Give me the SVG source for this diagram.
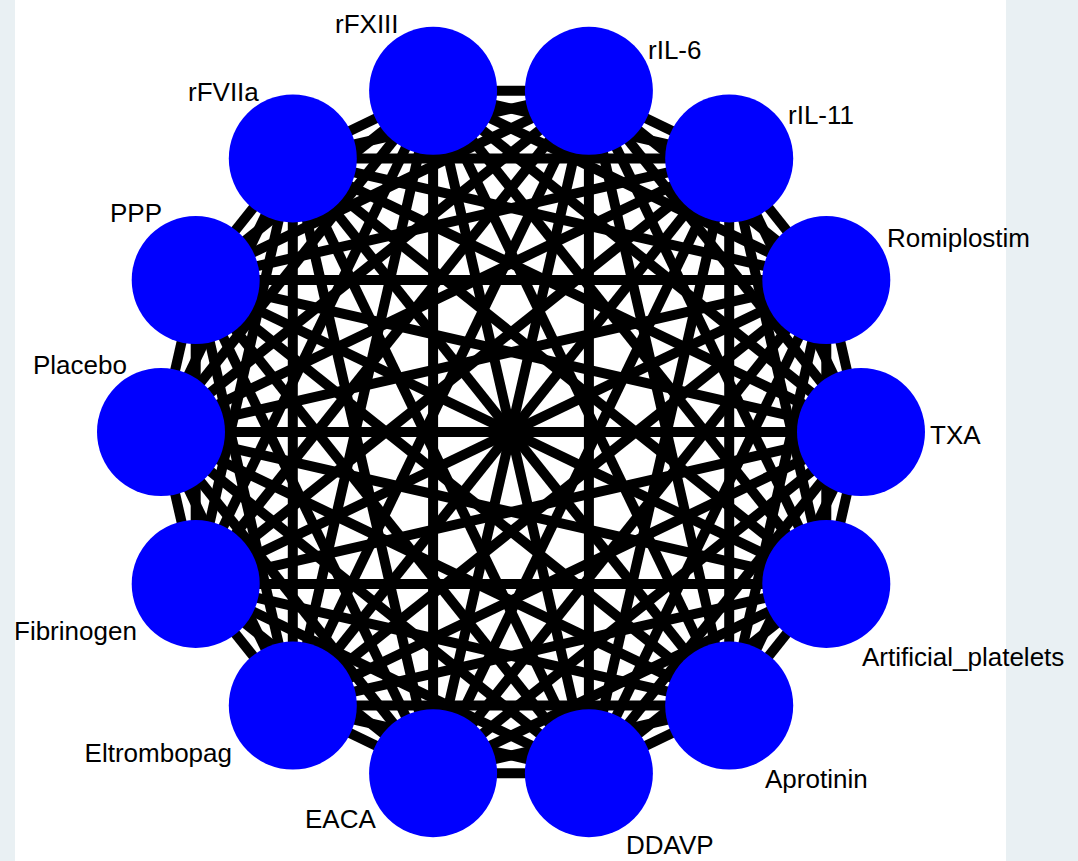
<svg xmlns="http://www.w3.org/2000/svg" width="1078" height="861" viewBox="0 0 1078 861">
<style>
.e line{stroke:#000;stroke-width:10}
.n circle{fill:#0000ff}
text{font-family:"Liberation Sans",Arial,sans-serif;font-size:26px;fill:#000}
</style>
<rect x="0" y="0" width="1078" height="861" fill="#e9f0f3"/>
<rect x="15" y="0" width="991" height="861" fill="#ffffff"/>
<g id="connectors" class="e">
<line x1="588.9" y1="90.8" x2="729.2" y2="158.4"/>
<line x1="588.9" y1="90.8" x2="826.3" y2="280.1"/>
<line x1="588.9" y1="90.8" x2="861" y2="432"/>
<line x1="588.9" y1="90.8" x2="826.3" y2="583.9"/>
<line x1="588.9" y1="90.8" x2="729.2" y2="705.6"/>
<line x1="588.9" y1="90.8" x2="588.9" y2="773.2"/>
<line x1="588.9" y1="90.8" x2="433.1" y2="773.2"/>
<line x1="588.9" y1="90.8" x2="292.8" y2="705.6"/>
<line x1="588.9" y1="90.8" x2="195.7" y2="583.9"/>
<line x1="588.9" y1="90.8" x2="161" y2="432"/>
<line x1="588.9" y1="90.8" x2="195.7" y2="280.1"/>
<line x1="588.9" y1="90.8" x2="292.8" y2="158.4"/>
<line x1="588.9" y1="90.8" x2="433.1" y2="90.8"/>
<line x1="729.2" y1="158.4" x2="826.3" y2="280.1"/>
<line x1="729.2" y1="158.4" x2="861" y2="432"/>
<line x1="729.2" y1="158.4" x2="826.3" y2="583.9"/>
<line x1="729.2" y1="158.4" x2="729.2" y2="705.6"/>
<line x1="729.2" y1="158.4" x2="588.9" y2="773.2"/>
<line x1="729.2" y1="158.4" x2="433.1" y2="773.2"/>
<line x1="729.2" y1="158.4" x2="292.8" y2="705.6"/>
<line x1="729.2" y1="158.4" x2="195.7" y2="583.9"/>
<line x1="729.2" y1="158.4" x2="161" y2="432"/>
<line x1="729.2" y1="158.4" x2="195.7" y2="280.1"/>
<line x1="729.2" y1="158.4" x2="292.8" y2="158.4"/>
<line x1="729.2" y1="158.4" x2="433.1" y2="90.8"/>
<line x1="826.3" y1="280.1" x2="861" y2="432"/>
<line x1="826.3" y1="280.1" x2="826.3" y2="583.9"/>
<line x1="826.3" y1="280.1" x2="729.2" y2="705.6"/>
<line x1="826.3" y1="280.1" x2="588.9" y2="773.2"/>
<line x1="826.3" y1="280.1" x2="433.1" y2="773.2"/>
<line x1="826.3" y1="280.1" x2="292.8" y2="705.6"/>
<line x1="826.3" y1="280.1" x2="195.7" y2="583.9"/>
<line x1="826.3" y1="280.1" x2="161" y2="432"/>
<line x1="826.3" y1="280.1" x2="195.7" y2="280.1"/>
<line x1="826.3" y1="280.1" x2="292.8" y2="158.4"/>
<line x1="826.3" y1="280.1" x2="433.1" y2="90.8"/>
<line x1="861" y1="432" x2="826.3" y2="583.9"/>
<line x1="861" y1="432" x2="729.2" y2="705.6"/>
<line x1="861" y1="432" x2="588.9" y2="773.2"/>
<line x1="861" y1="432" x2="433.1" y2="773.2"/>
<line x1="861" y1="432" x2="292.8" y2="705.6"/>
<line x1="861" y1="432" x2="195.7" y2="583.9"/>
<line x1="861" y1="432" x2="161" y2="432"/>
<line x1="861" y1="432" x2="195.7" y2="280.1"/>
<line x1="861" y1="432" x2="292.8" y2="158.4"/>
<line x1="861" y1="432" x2="433.1" y2="90.8"/>
<line x1="826.3" y1="583.9" x2="729.2" y2="705.6"/>
<line x1="826.3" y1="583.9" x2="588.9" y2="773.2"/>
<line x1="826.3" y1="583.9" x2="433.1" y2="773.2"/>
<line x1="826.3" y1="583.9" x2="292.8" y2="705.6"/>
<line x1="826.3" y1="583.9" x2="195.7" y2="583.9"/>
<line x1="826.3" y1="583.9" x2="161" y2="432"/>
<line x1="826.3" y1="583.9" x2="195.7" y2="280.1"/>
<line x1="826.3" y1="583.9" x2="292.8" y2="158.4"/>
<line x1="826.3" y1="583.9" x2="433.1" y2="90.8"/>
<line x1="729.2" y1="705.6" x2="588.9" y2="773.2"/>
<line x1="729.2" y1="705.6" x2="433.1" y2="773.2"/>
<line x1="729.2" y1="705.6" x2="292.8" y2="705.6"/>
<line x1="729.2" y1="705.6" x2="195.7" y2="583.9"/>
<line x1="729.2" y1="705.6" x2="161" y2="432"/>
<line x1="729.2" y1="705.6" x2="195.7" y2="280.1"/>
<line x1="729.2" y1="705.6" x2="292.8" y2="158.4"/>
<line x1="729.2" y1="705.6" x2="433.1" y2="90.8"/>
<line x1="588.9" y1="773.2" x2="433.1" y2="773.2"/>
<line x1="588.9" y1="773.2" x2="292.8" y2="705.6"/>
<line x1="588.9" y1="773.2" x2="195.7" y2="583.9"/>
<line x1="588.9" y1="773.2" x2="161" y2="432"/>
<line x1="588.9" y1="773.2" x2="195.7" y2="280.1"/>
<line x1="588.9" y1="773.2" x2="292.8" y2="158.4"/>
<line x1="588.9" y1="773.2" x2="433.1" y2="90.8"/>
<line x1="433.1" y1="773.2" x2="292.8" y2="705.6"/>
<line x1="433.1" y1="773.2" x2="195.7" y2="583.9"/>
<line x1="433.1" y1="773.2" x2="161" y2="432"/>
<line x1="433.1" y1="773.2" x2="195.7" y2="280.1"/>
<line x1="433.1" y1="773.2" x2="292.8" y2="158.4"/>
<line x1="433.1" y1="773.2" x2="433.1" y2="90.8"/>
<line x1="292.8" y1="705.6" x2="195.7" y2="583.9"/>
<line x1="292.8" y1="705.6" x2="161" y2="432"/>
<line x1="292.8" y1="705.6" x2="195.7" y2="280.1"/>
<line x1="292.8" y1="705.6" x2="292.8" y2="158.4"/>
<line x1="292.8" y1="705.6" x2="433.1" y2="90.8"/>
<line x1="195.7" y1="583.9" x2="161" y2="432"/>
<line x1="195.7" y1="583.9" x2="195.7" y2="280.1"/>
<line x1="195.7" y1="583.9" x2="292.8" y2="158.4"/>
<line x1="195.7" y1="583.9" x2="433.1" y2="90.8"/>
<line x1="161" y1="432" x2="195.7" y2="280.1"/>
<line x1="161" y1="432" x2="292.8" y2="158.4"/>
<line x1="161" y1="432" x2="433.1" y2="90.8"/>
<line x1="195.7" y1="280.1" x2="292.8" y2="158.4"/>
<line x1="195.7" y1="280.1" x2="433.1" y2="90.8"/>
<line x1="292.8" y1="158.4" x2="433.1" y2="90.8"/>
</g>
<g id="rFXIII" class="n"><circle cx="433.1" cy="90.8" r="64"/><text x="335" y="33">rFXIII</text></g>
<g id="rIL-6" class="n"><circle cx="588.9" cy="90.8" r="64"/><text x="648" y="59">rIL-6</text></g>
<g id="rIL-11" class="n"><circle cx="729.2" cy="158.4" r="64"/><text x="788" y="124">rIL-11</text></g>
<g id="Romiplostim" class="n"><circle cx="826.3" cy="280.1" r="64"/><text x="887" y="247">Romiplostim</text></g>
<g id="TXA" class="n"><circle cx="861" cy="432" r="64"/><text x="930" y="444">TXA</text></g>
<g id="Artificial_platelets" class="n"><circle cx="826.3" cy="583.9" r="64"/><text x="862" y="666">Artificial_platelets</text></g>
<g id="Aprotinin" class="n"><circle cx="729.2" cy="705.6" r="64"/><text x="765" y="788">Aprotinin</text></g>
<g id="DDAVP" class="n"><circle cx="588.9" cy="773.2" r="64"/><text x="626" y="854">DDAVP</text></g>
<g id="EACA" class="n"><circle cx="433.1" cy="773.2" r="64"/><text x="305" y="828">EACA</text></g>
<g id="Eltrombopag" class="n"><circle cx="292.8" cy="705.6" r="64"/><text x="232" y="762" text-anchor="end">Eltrombopag</text></g>
<g id="Fibrinogen" class="n"><circle cx="195.7" cy="583.9" r="64"/><text x="14" y="640">Fibrinogen</text></g>
<g id="Placebo" class="n"><circle cx="161" cy="432" r="64"/><text x="33" y="374">Placebo</text></g>
<g id="PPP" class="n"><circle cx="195.7" cy="280.1" r="64"/><text x="110" y="222">PPP</text></g>
<g id="rFVIIa" class="n"><circle cx="292.8" cy="158.4" r="64"/><text x="188" y="101">rFVIIa</text></g>
</svg>
